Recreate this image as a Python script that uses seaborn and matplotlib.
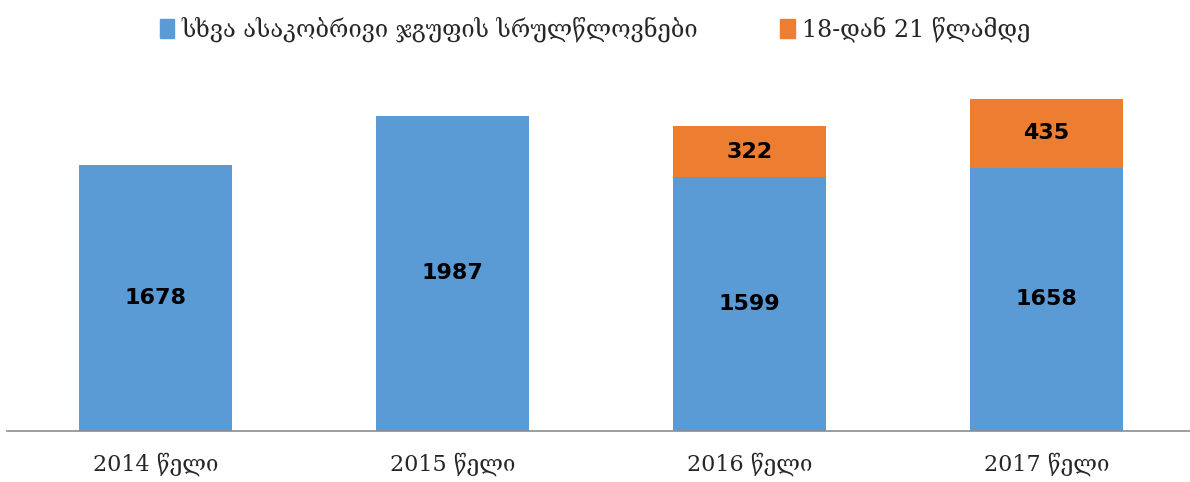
import pandas as pd
import matplotlib.pyplot as plt
import seaborn as sns
from matplotlib.patches import Patch

years = ['2014 წელი', '2015 წელი', '2016 წელი', '2017 წელი']
other_ages = [1678, 1987, 1599, 1658]
age_18_21 = [0, 0, 322, 435]
series_names = ['სხვა ასაკობრივი ჯგუფის სრულწლოვნები', '18-დან 21 წლამდე']

blue = '#5B9BD5'
orange = '#ED7D31'

df = pd.DataFrame({'year': years, 'other': other_ages, 'young': age_18_21})

sns.set_style('white')
plt.rcParams['font.family'] = ['DejaVu Serif', 'DejaVu Sans']

fig = plt.figure(figsize=(11.9, 4.82), dpi=100)
ax = fig.add_axes([7 / 1190, 51 / 482, 1188 / 1190, 349 / 482])

sns.barplot(data=df, x='year', y='other', color=blue, width=0.512,
            saturation=1, ax=ax, zorder=2, linewidth=0)
sns.barplot(data=df, x='year', y='young', color=orange, width=0.512,
            saturation=1, ax=ax, bottom=df['other'], zorder=2, linewidth=0)

for i, (a, b) in enumerate(zip(other_ages, age_18_21)):
    ax.text(i, a / 2, str(a), ha='center', va='center', fontsize=16,
            fontweight='bold', family='DejaVu Sans', color='black')
    if b > 0:
        ax.text(i, a + b / 2, str(b), ha='center', va='center', fontsize=16,
                fontweight='bold', family='DejaVu Sans', color='black')

ax.set_xlim(-0.5, 3.5)
ax.set_ylim(0, 2200)
ax.set_xlabel('')
ax.set_ylabel('')
ax.set_yticks([])
for s in ['top', 'right', 'left']:
    ax.spines[s].set_visible(False)
ax.spines['bottom'].set_color('#8c8c8c')
ax.spines['bottom'].set_linewidth(1.2)
ax.tick_params(axis='x', length=0, pad=24, labelsize=16)
for lbl in ax.get_xticklabels():
    lbl.set_verticalalignment('center')

handles = [Patch(color=blue), Patch(color=orange)]
fig.legend(handles, series_names, loc='upper center', bbox_to_anchor=(0.5, 1.01),
           ncol=2, frameon=False, fontsize=17, handlelength=0.6, handleheight=0.9,
           handletextpad=0.3, columnspacing=3.5)

fig.savefig('out.png', dpi=100)
